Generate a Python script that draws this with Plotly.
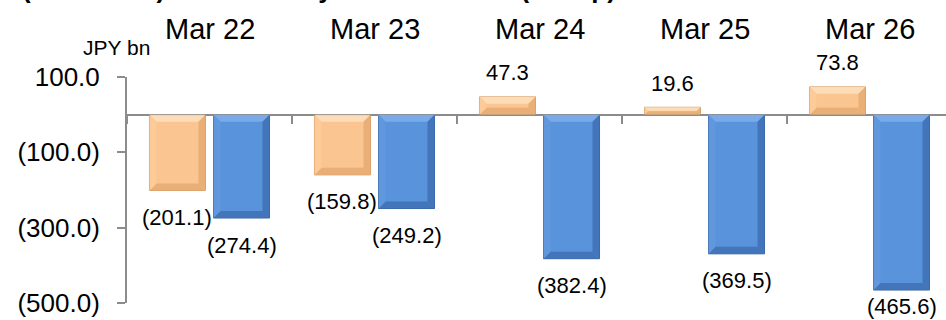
import plotly.graph_objects as go

# Fiscal periods and the two series (JPY bn)
periods = ["Mar 22", "Mar 23", "Mar 24", "Mar 25", "Mar 26"]
series_a = [-201.1, -159.8, 47.3, 19.6, 73.8]
series_b = [-274.4, -249.2, -382.4, -369.5, -465.6]
ytick_vals = [100, -100, -300, -500]
ytick_text = ["100.0", "(100.0)", "(300.0)", "(500.0)"]
title_text = "(Reference) Cash flow by business area (Group)"
unit_text = "JPY bn"

FONT = "Arial, Liberation Sans, sans-serif"
AXIS = "#8C8C8C"
# fill, light bevel, mid bevel, dark bevel, outline
ORANGE = dict(fill="#FAC590", light="#FDE0C0", mid="#FBCB9A", dark="#E6AA72", edge="#D49C68")
BLUE = dict(fill="#5893DB", light="#80AEEA", mid="#6399DD", dark="#3E70B3", edge="#3A66A3")

W, H = 946, 320
ML, MT, MB = 127, 77, 17
plot_w = W - ML
plot_h = H - MT - MB
cat_px = 165.0
x_lo = -0.5
x_hi = x_lo + plot_w / cat_px
y_lo, y_hi = -500, 100
px_per_y = plot_h / (y_hi - y_lo)

BARGAP, GROUPGAP = 0.224, 0.125
slot = (1 - BARGAP) / 2
bar_w = slot * (1 - GROUPGAP)
BEVEL_PX = 7


def fmt(v):
    return f"({abs(v):.1f})" if v < 0 else f"{v:.1f}"


xs = list(range(len(periods)))

fig = go.Figure()
for vals, pal in ((series_a, ORANGE), (series_b, BLUE)):
    fig.add_trace(go.Bar(x=xs, y=vals, marker=dict(color=pal["fill"], line=dict(color=pal["edge"], width=1))))

# bevel facets laid over each bar
shapes = []
for k, (vals, pal) in enumerate(((series_a, ORANGE), (series_b, BLUE))):
    offset = (k - 0.5) * slot
    for i, v in enumerate(vals):
        x0 = i + offset - bar_w / 2
        x1 = i + offset + bar_w / 2
        y_top, y_bot = max(v, 0), min(v, 0)
        h_px = abs(v) * px_per_y
        b_px = min(BEVEL_PX, h_px / 2.2)
        bx = b_px / cat_px
        by = b_px / px_per_y
        facets = [
            ([(x0, y_top), (x1, y_top), (x1 - bx, y_top - by), (x0 + bx, y_top - by)], pal["light"]),
            ([(x0, y_bot), (x1, y_bot), (x1 - bx, y_bot + by), (x0 + bx, y_bot + by)], pal["dark"]),
            ([(x0, y_top), (x0 + bx, y_top - by), (x0 + bx, y_bot + by), (x0, y_bot)], pal["mid"]),
            ([(x1, y_top), (x1 - bx, y_top - by), (x1 - bx, y_bot + by), (x1, y_bot)], pal["dark"]),
        ]
        for pts, col in facets:
            path = "M " + " L ".join(f"{px},{py}" for px, py in pts) + " Z"
            shapes.append(dict(type="path", path=path, xref="x", yref="y",
                               fillcolor=col, line=dict(width=0), layer="above", opacity=0.85))

annotations = []
# value labels, kept inside the page at the bottom
for i, (a, b) in enumerate(zip(series_a, series_b)):
    for v, shift in ((a, -slot), (b, slot)):
        ys = -27 if v < 0 else 24
        centre_px = MT + (y_hi - v) * px_per_y - ys
        if centre_px > H - 13:
            ys += centre_px - (H - 13)
        annotations.append(dict(
            x=i + shift / 2, y=v, xref="x", yref="y", text=fmt(v), showarrow=False,
            yshift=ys, font=dict(family=FONT, size=22, color="black"),
        ))
# period headings above the plot
for i, p in enumerate(periods):
    annotations.append(dict(
        x=i, y=1 + (MT - 29) / plot_h, xref="x", yref="paper", text=p,
        showarrow=False, yanchor="middle",
        font=dict(family=FONT, size=29, color="black"),
    ))
# unit label
annotations.append(dict(
    x=(116 - ML) / plot_w, y=1 + (MT - 47) / plot_h, xref="paper", yref="paper",
    text=unit_text, showarrow=False, xanchor="center", yanchor="middle",
    font=dict(family=FONT, size=21, color="black"),
))
# heading line, mostly above the page edge
annotations.append(dict(
    x=(20 - ML) / plot_w, y=1 + (MT - 6) / plot_h, xref="paper", yref="paper",
    text=f"<b>{title_text}</b>", showarrow=False, xanchor="left", yanchor="bottom",
    font=dict(family=FONT, size=26, color="black"),
))

zero_pos = (0 - y_lo) / (y_hi - y_lo)

fig.update_layout(
    width=W, height=H,
    margin=dict(l=ML, r=0, t=MT, b=MB, pad=0),
    paper_bgcolor="white", plot_bgcolor="white",
    barmode="group", bargap=BARGAP, bargroupgap=GROUPGAP,
    showlegend=False,
    annotations=annotations,
    shapes=shapes,
    font=dict(family=FONT, color="black"),
    xaxis=dict(
        range=[x_lo, x_hi], showgrid=False, zeroline=False,
        anchor="free", position=zero_pos,
        showline=True, linecolor=AXIS, linewidth=2,
        tickmode="array", tickvals=[k - 0.5 for k in range(len(periods) + 1)],
        ticktext=[""] * (len(periods) + 1),
        ticks="outside", ticklen=8, tickwidth=1.5, tickcolor=AXIS,
    ),
    yaxis=dict(
        range=[y_lo, y_hi], showgrid=False, zeroline=False,
        showline=True, linecolor=AXIS, linewidth=2,
        tickmode="array", tickvals=ytick_vals, ticktext=ytick_text,
        ticks="outside", ticklen=8, tickwidth=1.5, tickcolor=AXIS,
        ticklabelstandoff=12,
        tickfont=dict(family=FONT, size=26, color="black"),
    ),
)

fig.write_html("out.html")
